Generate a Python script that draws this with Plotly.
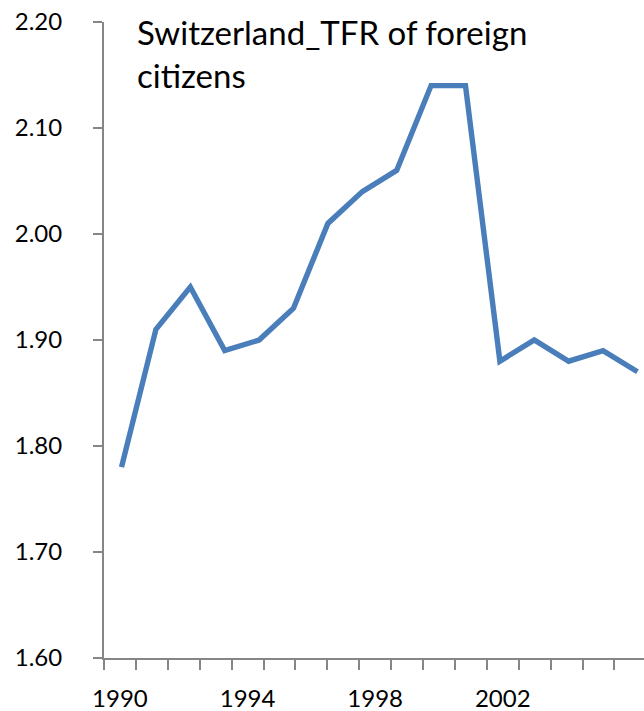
import plotly.graph_objects as go

years = list(range(1990, 2006))
tfr = [1.78, 1.91, 1.95, 1.89, 1.90, 1.93, 2.01, 2.04, 2.06, 2.14, 2.14, 1.88, 1.90, 1.88, 1.89, 1.87]
x_tick_vals = [1990, 1994, 1998, 2002]
x_tick_text = ["1990", "1994", "1998", "2002"]
y_tick_vals = [1.6, 1.7, 1.8, 1.9, 2.0, 2.1, 2.2]
title_text = "Switzerland_TFR of foreign<br>citizens"

AX = "#868686"
FONT = "Lato"

fig = go.Figure()
# invisible anchor trace so the category axis is drawn
fig.add_trace(go.Scatter(
    x=[years[0]], y=[y_tick_vals[0]], xaxis="x", yaxis="y", mode="markers",
    marker=dict(opacity=0), showlegend=False, hoverinfo="skip",
))
fig.add_trace(go.Scatter(
    x=years, y=tfr, xaxis="x2", yaxis="y", mode="lines",
    line=dict(color="#4A7EBB", width=5.4), showlegend=False, hoverinfo="skip",
))

W, H = 644, 711
L, R, T, B = 104, 0, 22, 53
pw = W - L - R
cat = 31.9
fig.update_layout(
    width=W, height=H,
    margin=dict(l=L, r=R, t=T, b=B, autoexpand=False),
    paper_bgcolor="white", plot_bgcolor="white",
    font=dict(family=FONT, color="black", size=24),
    xaxis=dict(
        range=[1989.5, 1989.5 + pw / cat],
        showline=True, linecolor=AX, linewidth=2,
        showgrid=False, zeroline=False, automargin=False,
        tickvals=x_tick_vals, ticktext=x_tick_text,
        ticks="outside", ticklen=10, tickcolor="rgba(0,0,0,0)", tickwidth=2,
        minor=dict(ticks="outside", ticklen=10, tickcolor=AX, tickwidth=2,
                   tick0=1989.5, dtick=1, showgrid=False),
        tickfont=dict(family=FONT, size=24, color="black"),
        ticklabelstandoff=8,
    ),
    xaxis2=dict(
        range=[1989.491, 2005.19], overlaying="x", visible=False,
        showgrid=False, zeroline=False,
    ),
    yaxis=dict(
        range=[1.6, 2.2],
        tickvals=y_tick_vals, tickformat=".2f",
        showline=True, linecolor=AX, linewidth=2,
        showgrid=False, zeroline=False, automargin=False,
        ticks="outside", ticklen=9, tickcolor=AX, tickwidth=2,
        tickfont=dict(family=FONT, size=24, color="black"),
        ticklabelstandoff=26,
    ),
    annotations=[dict(
        text=title_text, xref="paper", yref="paper",
        x=(135 - L) / pw, y=1, xanchor="left", yanchor="top", yshift=12,
        showarrow=False, align="left",
        font=dict(family=FONT, size=33, color="black"),
    )],
)

fig.write_html("out.html")
